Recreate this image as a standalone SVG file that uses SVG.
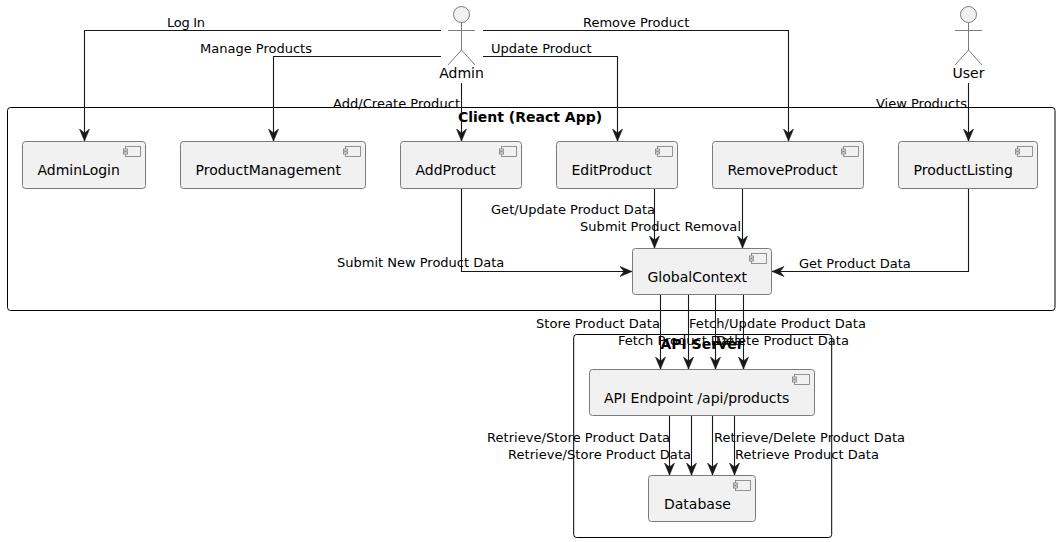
<svg xmlns="http://www.w3.org/2000/svg" width="1059" height="542" viewBox="0 0 1059 542">
<style>
text{font-family:"DejaVu Sans",sans-serif;fill:#000}
.lbl{font-size:13px}
.nm{font-size:14px}
.ttl{font-size:14px;font-weight:bold}
.cl{fill:none;stroke:#000;stroke-width:1}
.box{fill:#f1f1f1;stroke:#7b7b7b;stroke-width:1}
.ic{fill:#f1f1f1;stroke:#7b7b7b;stroke-width:.8}
.act{fill:none;stroke:#7b7b7b;stroke-width:1}
.con{fill:none;stroke:#181818;stroke-width:1.1;marker-end:url(#ah)}
</style>
<defs>
<marker id="ah" markerUnits="userSpaceOnUse" markerWidth="14" markerHeight="14" refX="12.5" refY="7" orient="auto" viewBox="0 0 14 14"><path d="M0.5,2 L12.5,7 L0.5,12 L4.5,7 Z" fill="#181818" stroke="#181818" stroke-width=".6"/></marker>
<g id="ico"><rect class="ic" x="-15" y="0" width="15" height="10"/><rect class="ic" x="-17" y="2.5" width="4" height="2"/><rect class="ic" x="-17" y="5.5" width="4" height="2"/></g>
</defs>
<g id="client"><rect class="cl" x="7.5" y="107.5" width="1047.5" height="203" rx="3"/><text class="ttl" x="530" y="122" text-anchor="middle">Client (React App)</text></g>
<g id="api"><rect class="cl" x="573.7" y="334.5" width="258" height="203" rx="3"/><text class="ttl" x="702" y="349" text-anchor="middle">API Server</text></g>
<g id="connectors">
<path class="con" d="M441,30.5H84.5V141"/>
<path class="con" d="M441,56.5H273.5V141"/>
<path class="con" d="M461.5,83V141"/>
<path class="con" d="M483,56.5H617.5V141"/>
<path class="con" d="M483,30.5H788.5V141"/>
<path class="con" d="M968.5,83V141"/>
<path class="con" d="M461.5,188V271.5H632"/>
<path class="con" d="M654.5,188V248"/>
<path class="con" d="M742.5,188V248"/>
<path class="con" d="M968.5,188V271.5H772"/>
<path class="con" d="M660.5,294V369"/>
<path class="con" d="M688.5,294V369"/>
<path class="con" d="M715.5,294V369"/>
<path class="con" d="M743.5,294V369"/>
<path class="con" d="M669.5,415V475"/>
<path class="con" d="M691.5,415V475"/>
<path class="con" d="M712.5,415V475"/>
<path class="con" d="M734.5,415V475"/>
</g>
<g id="labels">
<text class="lbl" x="167" y="27" textLength="38">Log In</text>
<text class="lbl" x="200" y="53">Manage Products</text>
<text class="lbl" x="333" y="108" textLength="127">Add/Create Product</text>
<text class="lbl" x="491" y="53">Update Product</text>
<text class="lbl" x="583" y="27">Remove Product</text>
<text class="lbl" x="876" y="108">View Products</text>
<text class="lbl" x="491" y="214" textLength="164">Get/Update Product Data</text>
<text class="lbl" x="580" y="231" textLength="161">Submit Product Removal</text>
<text class="lbl" x="337" y="267">Submit New Product Data</text>
<text class="lbl" x="799" y="268">Get Product Data</text>
<text class="lbl" x="536" y="328" textLength="124">Store Product Data</text>
<text class="lbl" x="618" y="345">Fetch Product Data</text>
<text class="lbl" x="689" y="328" textLength="177">Fetch/Update Product Data</text>
<text class="lbl" x="716" y="345" textLength="133">Delete Product Data</text>
<text class="lbl" x="487" y="442" textLength="183">Retrieve/Store Product Data</text>
<text class="lbl" x="508" y="459" textLength="183">Retrieve/Store Product Data</text>
<text class="lbl" x="714" y="442" textLength="191">Retrieve/Delete Product Data</text>
<text class="lbl" x="735" y="459" textLength="144">Retrieve Product Data</text>
</g>
<g id="admin"><circle cx="461.5" cy="14.5" r="8" fill="#f1f1f1" stroke="#7b7b7b"/><path class="act" d="M461.5,22.5V50M448,30.5H475M461.5,50L448,65M461.5,50L475,65"/><text class="nm" x="461.5" y="78" text-anchor="middle">Admin</text></g>
<g id="user"><circle cx="968.5" cy="14.5" r="8" fill="#f1f1f1" stroke="#7b7b7b"/><path class="act" d="M968.5,22.5V50M955,30.5H982M968.5,50L955,65M968.5,50L982,65"/><text class="nm" x="968.5" y="78" text-anchor="middle">User</text></g>
<g id="adminlogin"><rect class="box" x="22.5" y="141.5" width="123" height="47" rx="3"/><use href="#ico" x="140.5" y="146.5"/><text class="nm" x="37.5" y="175">AdminLogin</text></g>
<g id="productmanagement"><rect class="box" x="180.5" y="141.5" width="185" height="47" rx="3"/><use href="#ico" x="360.5" y="146.5"/><text class="nm" x="195.5" y="175">ProductManagement</text></g>
<g id="addproduct"><rect class="box" x="400.5" y="141.5" width="121" height="47" rx="3"/><use href="#ico" x="516.5" y="146.5"/><text class="nm" x="415.5" y="175">AddProduct</text></g>
<g id="editproduct"><rect class="box" x="556.5" y="141.5" width="121" height="47" rx="3"/><use href="#ico" x="672.5" y="146.5"/><text class="nm" x="571.5" y="175">EditProduct</text></g>
<g id="removeproduct"><rect class="box" x="712.5" y="141.5" width="151" height="47" rx="3"/><use href="#ico" x="858.5" y="146.5"/><text class="nm" x="727.5" y="175">RemoveProduct</text></g>
<g id="productlisting"><rect class="box" x="898.5" y="141.5" width="139" height="47" rx="3"/><use href="#ico" x="1032.5" y="146.5"/><text class="nm" x="913.5" y="175">ProductListing</text></g>
<g id="globalcontext"><rect class="box" x="632.5" y="248.5" width="139" height="46" rx="3"/><use href="#ico" x="766.5" y="253.5"/><text class="nm" x="647.5" y="281.5">GlobalContext</text></g>
<g id="apiendpoint"><rect class="box" x="589.5" y="369.5" width="225" height="46" rx="3"/><use href="#ico" x="809.5" y="374.5"/><text class="nm" x="604" y="402.5">API Endpoint /api/products</text></g>
<g id="database"><rect class="box" x="648.5" y="475.5" width="107" height="46" rx="3"/><use href="#ico" x="750.5" y="480.5"/><text class="nm" x="664" y="509">Database</text></g>
</svg>
